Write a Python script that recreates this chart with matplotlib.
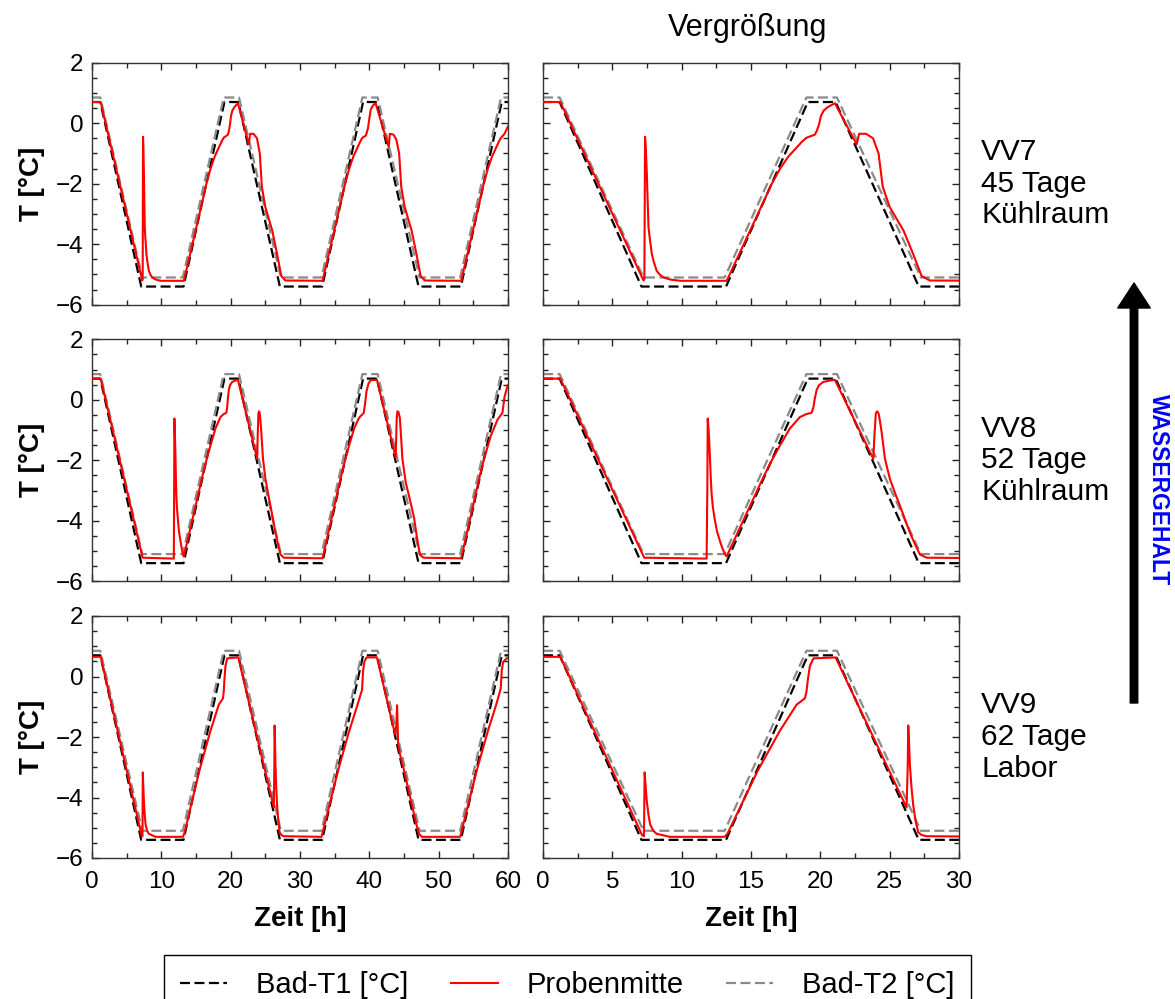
import matplotlib
matplotlib.use('Agg')
from matplotlib import pyplot as plt
from matplotlib import ticker
from matplotlib.patches import FancyArrowPatch

plt.rcParams['font.family'] = ['Liberation Sans', 'DejaVu Sans']

# bath temperatures (same programme for every test)
bath1_t = [0, 1.2, 7.1, 13.2, 19.1, 21.1, 27.1, 33.2, 39.1, 41.1, 47.1, 53.2, 59.1, 60]
bath1_T = [0.7, 0.7, -5.4, -5.4, 0.7, 0.7, -5.4, -5.4, 0.7, 0.7, -5.4, -5.4, 0.7, 0.7]
bath2_t = [0, 1.2, 7.25, 13.1, 19.0, 21.2, 27.25, 33.1, 39.0, 41.2, 47.25, 53.1, 59.0, 60]
bath2_T = [0.85, 0.85, -5.1, -5.1, 0.85, 0.85, -5.1, -5.1, 0.85, 0.85, -5.1, -5.1, 0.85, 0.85]

# sample centre temperature, VV7
vv7_t = [0, 1.25, 7.25, 7.31, 7.36, 7.42, 7.49, 7.55, 7.61, 7.7, 7.85, 8.0, 8.2, 8.45, 8.7,
         9.2, 9.9, 13.25, 15.9, 16.5, 17.1, 17.7, 18.3, 18.7, 19.0, 19.3, 19.6, 19.75, 19.9,
         20.05, 20.25, 20.5, 20.8, 21.05, 22.62, 22.8, 23.3, 23.8, 24.2, 24.5, 25.0, 26.0,
         26.7, 27.3, 27.9, 33.25, 35.9, 36.5, 37.1, 37.7, 38.3, 38.7, 39.0, 39.5, 39.8, 40.0,
         40.2, 40.5, 40.9, 42.8, 42.95, 43.5, 43.9, 44.3, 44.6, 45.1, 46.1, 46.8, 47.4, 48.0,
         53.25, 55.9, 56.5, 57.1, 57.7, 58.3, 58.7, 59.0, 59.5, 60.0]
vv7_T = [0.7, 0.7, -5.2, -5.15, -0.45, -0.9, -1.7, -2.6, -3.45, -3.8, -4.33, -4.6, -4.88, -5.02, -5.1,
         -5.17, -5.21, -5.21, -2.6, -2.0, -1.5, -1.1, -0.8, -0.6, -0.48, -0.43, -0.38, -0.25, -0.05,
         0.25, 0.42, 0.52, 0.6, 0.66, -0.7, -0.35, -0.35, -0.5, -1.0, -2.1, -2.77, -3.55,
         -4.33, -5.05, -5.2, -5.21, -2.6, -2.0, -1.5, -1.1, -0.8, -0.6, -0.48, -0.41, -0.17, 0.15,
         0.45, 0.58, 0.66, -0.79, -0.35, -0.38, -0.55, -1.0, -2.1, -2.77, -3.55, -4.33, -5.05, -5.2,
         -5.21, -2.6, -2.0, -1.5, -1.1, -0.8, -0.6, -0.48, -0.35, -0.1]

# sample centre temperature, VV8
vv8_t = [0, 1.25, 7.3, 11.8, 11.85, 11.88, 11.93, 12.0, 12.04, 12.1, 12.16, 12.25, 12.4, 12.55,
         12.76, 12.95, 13.12, 13.24, 15.9, 16.5, 17.09, 17.8, 18.53, 19.0, 19.37, 19.5, 19.6,
         19.73, 19.9, 20.21, 20.6, 21.05, 23.82, 23.9, 24.0, 24.1, 24.2, 24.3, 24.42, 24.55,
         24.66, 25.02, 25.4, 25.74, 26.1, 26.46, 26.85, 27.18, 27.66, 33.25, 35.9, 36.5, 37.1,
         37.8, 38.5, 39.2, 39.4, 39.6, 39.9, 40.2, 41.1, 43.8, 43.95, 44.05, 44.2, 44.4, 44.6,
         44.77, 45.25, 45.8, 46.45, 46.9, 47.3, 47.8, 53.25, 55.9, 56.5, 57.5, 58.5, 59.2, 59.5,
         59.95]
vv8_T = [0.7, 0.7, -5.22, -5.25, -3.0, -0.62, -0.9, -1.5, -1.9, -2.6, -3.11, -3.55, -3.99, -4.35,
         -4.67, -4.92, -5.11, -5.18, -2.55, -2.0, -1.51, -0.95, -0.57, -0.47, -0.43, -0.25, 0.04,
         0.32, 0.48, 0.59, 0.63, 0.66, -1.95, -1.2, -0.45, -0.38, -0.45, -0.7, -1.07, -1.55,
         -1.95, -2.62, -3.1, -3.5, -3.95, -4.39, -4.8, -5.11, -5.22, -5.24, -2.55, -2.0, -1.5,
         -0.95, -0.6, -0.43, -0.1, 0.3, 0.55, 0.65, 0.66, -1.9, -0.6, -0.38, -0.4, -0.6, -1.3,
         -1.95, -2.73, -3.25, -3.9, -4.6, -5.12, -5.22, -5.24, -2.55, -2.0, -1.2, -0.65, -0.43, 0.1,
         0.48]

# sample centre temperature, VV9
vv9_t = [0, 1.25, 7.15, 7.28, 7.33, 7.38, 7.48, 7.6, 7.72, 7.95, 8.2, 9.15, 13.1, 13.3, 15.5,
         17.09, 18.29, 18.89, 19.0, 19.1, 19.25, 19.5, 21.1, 26.22, 26.3, 26.34, 26.4, 26.46,
         26.58, 26.7, 26.88, 27.06, 27.3, 27.66, 33.1, 35.5, 37.1, 38.3, 38.8, 38.95, 39.1, 39.3,
         39.6, 41.1, 43.7, 43.9, 44.0, 44.08, 44.15, 44.4, 45.0, 46.0, 46.8, 47.2, 47.6, 53.1,
         55.5, 57.1, 58.3, 58.95, 59.1, 59.3, 59.8, 60.0]
vv9_T = [0.65, 0.65, -5.25, -5.28, -3.17, -3.5, -4.1, -4.55, -4.88, -5.1, -5.2, -5.3, -5.3, -5.2, -3.1,
         -1.79, -0.93, -0.72, -0.5, -0.1, 0.35, 0.6, 0.63, -4.33, -3.0, -1.62, -2.2, -2.93,
         -3.7, -4.26, -4.8, -5.15, -5.24, -5.28, -5.3, -3.1, -1.8, -0.93, -0.55, -0.45, 0.2, 0.5,
         0.63, 0.63, -1.9, -1.6, -0.95, -1.6, -2.2, -2.55, -3.1, -4.1, -4.9, -5.22, -5.3, -5.3,
         -3.1, -1.8, -0.93, -0.4, 0.2, 0.48, 0.6, 0.63]

sample_t = [vv7_t, vv8_t, vv9_t]
sample_T = [vv7_T, vv8_T, vv9_T]
row_names = ['VV7\n45 Tage\nKühlraum', 'VV8\n52 Tage\nKühlraum', 'VV9\n62 Tage\nLabor']
legend_labels = ['Bad-T1 [°C]', 'Probenmitte', 'Bad-T2 [°C]']

W, H = 1175, 999
fig = plt.figure(figsize=(W / 100, H / 100), dpi=100)

col_left = [92, 543]
col_width = 416
row_top = [62.7, 339.3, 616]
row_height = 242
x_max = [60, 30]
x_major = [10, 5]

dash = (4.5, 2.0)
handles = None
for r in range(3):
    for c in range(2):
        ax = fig.add_axes([col_left[c] / W, 1 - (row_top[r] + row_height) / H,
                           col_width / W, row_height / H])
        l1, = ax.plot(bath1_t, bath1_T, color='black', lw=1.6, dashes=dash)
        l2, = ax.plot(sample_t[r], sample_T[r], color='red', lw=1.5, zorder=4)
        l3, = ax.plot(bath2_t, bath2_T, color='#8a8a8a', lw=1.6, dashes=dash)
        if handles is None:
            handles = [l1, l2, l3]
        ax.set_xlim(0, x_max[c])
        ax.set_ylim(-6, 2)
        ax.xaxis.set_major_locator(ticker.MultipleLocator(x_major[c]))
        ax.xaxis.set_minor_locator(ticker.MultipleLocator(x_major[c] / 2))
        ax.yaxis.set_major_locator(ticker.MultipleLocator(2))
        ax.yaxis.set_minor_locator(ticker.MultipleLocator(0.5))
        ax.tick_params(which='both', direction='in', top=True, right=True,
                       width=1.0, color='#222222', labelsize=17.5)
        ax.tick_params(which='major', length=5)
        ax.tick_params(which='minor', length=3.5)
        ax.tick_params(axis='x', pad=9)
        ax.tick_params(axis='y', pad=6)
        for s in ax.spines.values():
            s.set_color('#333333')
            s.set_linewidth(1.0)
        if c == 0:
            ax.set_ylabel('T [°C]', fontsize=20, fontweight='bold', labelpad=8)
        else:
            ax.tick_params(labelleft=False)
        if r == 2:
            ax.set_xlabel('Zeit [h]', fontsize=20, fontweight='bold', labelpad=10)
        else:
            ax.tick_params(labelbottom=False)

for r in range(3):
    fig.text(981 / W, 1 - (row_top[r] + row_height / 2) / H, row_names[r],
             fontsize=21.5, ha='left', va='center', linespacing=1.17)

fig.text(748 / W, 1 - 28 / H, 'Vergrößung', fontsize=22, ha='center', va='center')

arrow = FancyArrowPatch((1134 / W, 1 - 703 / H), (1134 / W, 1 - 283 / H),
                        transform=fig.transFigure,
                        arrowstyle='simple,head_length=1.0,head_width=1.3,tail_width=0.3',
                        mutation_scale=18, color='black', shrinkA=0, shrinkB=0)
fig.add_artist(arrow)
fig.text(1158 / W, 1 - 490 / H, 'WASSERGEHALT', rotation=-90, color='blue',
         fontweight='bold', fontsize=16.5, ha='center', va='center')

leg = fig.legend(handles, legend_labels, loc='upper center',
                 bbox_to_anchor=(567.5 / W, 1 - 955 / H), ncol=3, fontsize=21,
                 frameon=True, fancybox=False, edgecolor='black', framealpha=1,
                 handlelength=1.6, handletextpad=1.0, columnspacing=1.45,
                 borderaxespad=0, borderpad=0.55)
leg.get_frame().set_linewidth(1.0)

fig.savefig('out.png', dpi=100)
